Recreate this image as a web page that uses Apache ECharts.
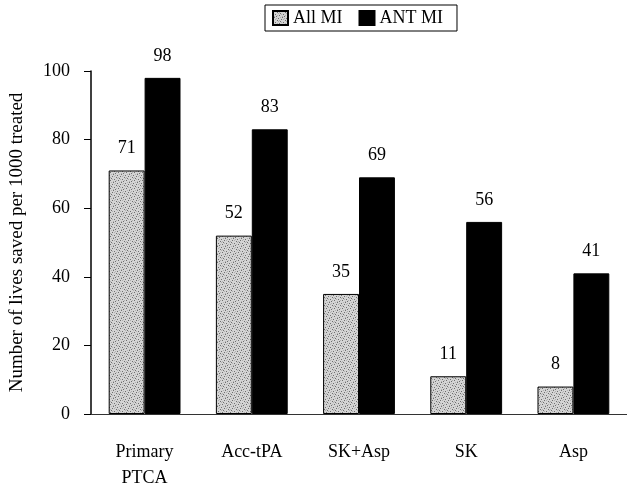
<!DOCTYPE html>
<html>
<head>
<meta charset="utf-8">
<script src="https://cdn.jsdelivr.net/npm/echarts@6/dist/echarts.min.js"></script>
<style>
  html, body { margin: 0; padding: 0; background: #fff; }
  #chart { width: 627px; height: 491px; }
</style>
</head>
<body>
<div id="chart"></div>
<script>
// Lives saved per 1000 treated, by reperfusion strategy
var categories = ['Primary\nPTCA', 'Acc-tPA', 'SK+Asp', 'SK', 'Asp'];
var allMI = [71, 52, 35, 11, 8];
var antMI = [98, 83, 69, 56, 41];
var yTicks = [0, 20, 40, 60, 80, 100];

// Stippled grey fill, built as a small repeating tile
function stipple() {
  var c = document.createElement('canvas');
  c.width = 8; c.height = 8;
  var g = c.getContext('2d');
  g.fillStyle = '#d4d4d4';
  g.fillRect(0, 0, 8, 8);
  g.fillStyle = '#6e6e6e';
  var dots = [[0,0],[4,1],[2,3],[6,4],[1,6],[5,7],[3,5],[7,2]];
  dots.forEach(function (d) { g.fillRect(d[0], d[1], 1, 1); });
  g.fillStyle = '#b0b0b0';
  var dots2 = [[2,0],[6,1],[0,3],[4,4],[3,7],[7,6],[5,2],[1,5]];
  dots2.forEach(function (d) { g.fillRect(d[0], d[1], 1, 1); });
  return { image: c, repeat: 'repeat' };
}

var font = '"Liberation Serif", "Times New Roman", serif';
var chart = echarts.init(document.getElementById('chart'), null, { renderer: 'canvas' });

var valueLabel = { show: true, position: 'top', distance: 13, fontFamily: font, fontSize: 18, color: '#000' };

chart.setOption({
  backgroundColor: '#fff',
  animation: false,
  textStyle: { fontFamily: font, color: '#000' },
  legend: {
    left: 265, top: 5,
    padding: [4, 14, 4, 7],
    itemGap: 16,
    icon: 'rect',
    itemWidth: 15, itemHeight: 14,
    borderColor: '#000', borderWidth: 1,
    textStyle: { fontFamily: font, fontSize: 18, color: '#000' },
    data: ['All MI', 'ANT MI']
  },
  grid: { left: 89, right: -6, top: 71, bottom: 76 },
  xAxis: {
    type: 'category',
    data: categories,
    axisLine: { lineStyle: { color: '#333', width: 1 } },
    axisTick: { show: false },
    axisLabel: { fontFamily: font, fontSize: 18, color: '#000', margin: 25, lineHeight: 26 }
  },
  yAxis: {
    type: 'value',
    min: 0, max: 100, interval: 20,
    name: 'Number of lives saved per 1000 treated',
    nameLocation: 'middle',
    nameGap: 64,
    nameTextStyle: { fontFamily: font, fontSize: 19, color: '#000' },
    axisLine: { show: true, lineStyle: { color: '#000', width: 1.5 } },
    axisTick: { show: true, length: 7, lineStyle: { color: '#000' } },
    splitLine: { show: false },
    axisLabel: {
      fontFamily: font, fontSize: 18, color: '#000', margin: 21,
      formatter: function (v) { return yTicks.indexOf(v) >= 0 ? String(v) : ''; }
    }
  },
  series: [
    {
      name: 'All MI',
      type: 'bar',
      data: allMI,
      barWidth: '33.5%',
      barGap: '0%',
      itemStyle: { color: stipple(), borderColor: '#000', borderWidth: 1 },
      label: valueLabel
    },
    {
      name: 'ANT MI',
      type: 'bar',
      data: antMI,
      barWidth: '33.5%',
      itemStyle: { color: '#000', borderColor: '#000', borderWidth: 1 },
      label: valueLabel
    }
  ]
});
</script>
</body>
</html>
